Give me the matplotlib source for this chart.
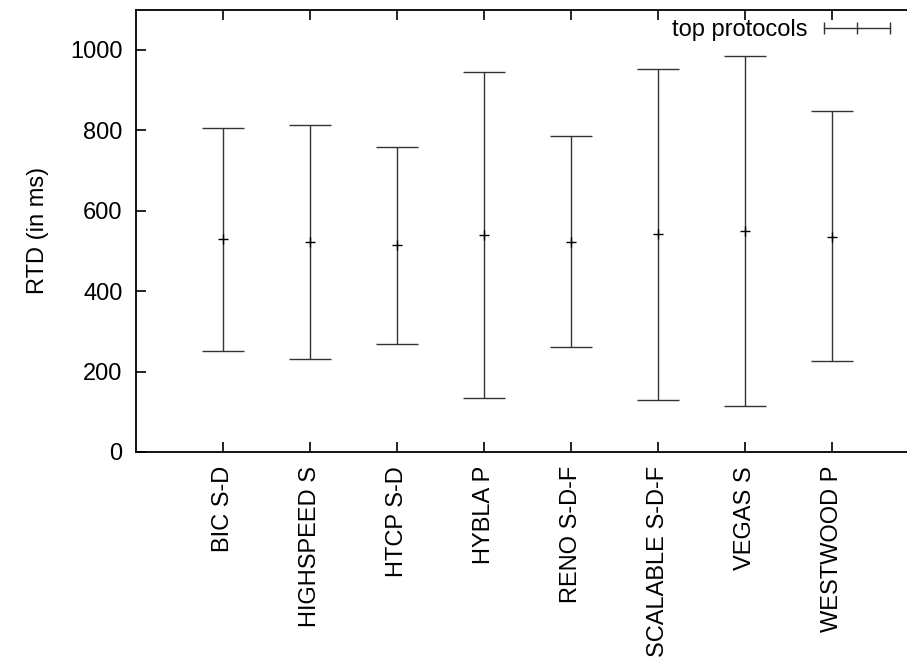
import numpy as np
import matplotlib.pyplot as plt
from matplotlib.lines import Line2D

plt.rcParams['font.family'] = ['Liberation Sans', 'DejaVu Sans']

protocols = ["BIC S-D", "HIGHSPEED S", "HTCP S-D", "HYBLA P",
             "RENO S-D-F", "SCALABLE S-D-F", "VEGAS S", "WESTWOOD P"]
rtd_mid = [529, 522, 514, 540, 522, 541, 550, 534]
rtd_low = [251, 230, 269, 134, 261, 129, 114, 226]
rtd_high = [806, 814, 758, 945, 785, 953, 985, 848]

FS = 17


def main():
    W, H = 907, 662
    fig = plt.figure(figsize=(W / 100, H / 100), dpi=100)
    # axes run past the right border, as in the reference crop
    left, right, top, bottom = 136.4, 918.5, 9.5, 452.0
    ax = fig.add_axes([left / W, 1 - bottom / H, (right - left) / W, (bottom - top) / H])

    x = np.arange(1, len(protocols) + 1)
    mid = np.array(rtd_mid)
    yerr = [mid - np.array(rtd_low), np.array(rtd_high) - mid]

    ax.errorbar(x, mid, yerr=yerr, fmt='none', ecolor='#333333',
                elinewidth=1.0, capsize=15, capthick=1.0)
    ax.plot(x, mid, linestyle='none', marker='+', markersize=7,
            markeredgewidth=1.0, color='black')

    ax.set_xlim(0, 9)
    ax.set_ylim(0, 1100)
    ax.set_yticks(np.arange(0, 1001, 200))
    ax.set_xticks(x)
    ax.set_xticklabels(protocols, rotation=90, fontsize=FS)
    ax.tick_params(axis='y', labelsize=FS, pad=10)
    ax.tick_params(axis='x', pad=10)
    ax.tick_params(direction='in', length=7, width=1.2, top=True, right=True)
    for s in ax.spines.values():
        s.set_linewidth(1.3)
    ax.set_ylabel("RTD (in ms)", fontsize=FS, labelpad=15)

    handle = Line2D([], [], color='#333333', linewidth=1.0, marker='|',
                    markersize=8, markeredgewidth=1.0)
    fig.legend([handle], ["top protocols"], loc='upper right',
               bbox_to_anchor=(897 / W, 1 - 19 / H), frameon=False,
               fontsize=FS, markerfirst=False, numpoints=3,
               handlelength=3.4, handletextpad=0.38, borderaxespad=0,
               borderpad=0)

    fig.savefig('out.png', dpi=100)


if __name__ == '__main__':
    main()
